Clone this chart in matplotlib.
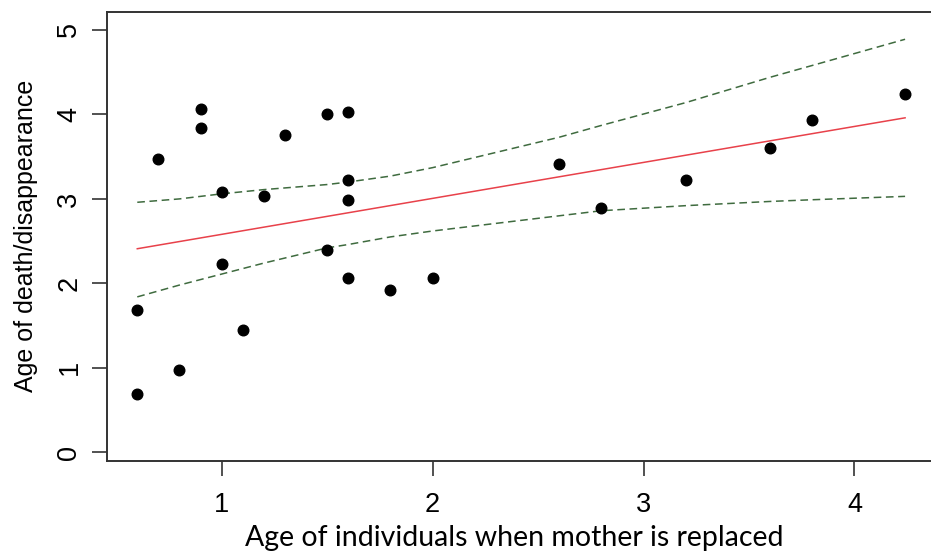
import matplotlib
matplotlib.use("Agg")
import matplotlib.pyplot as plt
import numpy as np

# observations
age_replaced = [0.6, 0.6, 0.7, 0.8, 0.9, 0.9, 1.0, 1.0, 1.1, 1.2, 1.3, 1.5, 1.5,
                1.6, 1.6, 1.6, 1.6, 1.8, 2.0, 2.6, 2.8, 3.2, 3.6, 3.8, 4.24]
age_death = [0.69, 1.69, 3.47, 0.97, 4.07, 3.84, 3.08, 2.23, 1.45, 3.03, 3.76, 4.01, 2.40,
             4.03, 3.22, 2.99, 2.06, 1.92, 2.06, 3.41, 2.89, 3.22, 3.60, 3.93, 4.24]

# fitted line end points
fit_x = [0.6, 4.24]
fit_y = [2.41, 3.96]

# confidence band
band_x = [0.6, 0.8, 1.0, 1.2, 1.5, 1.6, 1.8, 2.0, 2.6, 2.8, 3.2, 3.6, 3.8, 4.24]
band_upper = [2.96, 3.00, 3.06, 3.11, 3.17, 3.20, 3.27, 3.37, 3.73, 3.87, 4.14, 4.44, 4.58, 4.89]
band_lower = [1.84, 1.98, 2.11, 2.24, 2.42, 2.46, 2.55, 2.62, 2.80, 2.86, 2.92, 2.97, 2.99, 3.03]

fig = plt.figure(figsize=(9.31, 5.55), dpi=100)
ax = fig.add_axes([0.1146, 0.1694, 0.8929, 0.8096])

ax.scatter(age_replaced, age_death, s=58, color="black", zorder=3)
ax.plot(fit_x, fit_y, color="#e8414a", lw=1.1)
ax.plot(band_x, band_upper, color="#3f6b3f", lw=1.1, ls=(0, (5, 3)))
ax.plot(band_x, band_lower, color="#3f6b3f", lw=1.1, ls=(0, (5, 3)))

ax.set_xlim(0.455, 4.396)
ax.set_ylim(-0.103, 5.217)
ax.set_xticks([1, 2, 3, 4])
ax.set_yticks([0, 1, 2, 3, 4, 5])

for s in ax.spines.values():
    s.set_linewidth(1.4)
    s.set_color("#333333")

ax.tick_params(axis="both", length=10.5, width=1.2, color="#333333",
               labelsize=19.5)
ax.tick_params(axis="x", pad=11.5)
ax.tick_params(axis="y", pad=7)
for lab in ax.get_xticklabels() + ax.get_yticklabels():
    lab.set_family("Liberation Sans")
for lab in ax.get_yticklabels():
    lab.set_rotation(90)
    lab.set_va("center")

ax.set_xlabel("Age of individuals when mother is replaced", family="Lato",
              fontsize=20.5, va="center")
ax.xaxis.set_label_coords(0.49, -0.171)
ax.set_ylabel("Age of death/disappearance", family="Liberation Sans",
              fontsize=18, va="center")
ax.yaxis.set_label_coords(-0.097, 0.5)

fig.savefig("out.png", dpi=100)
